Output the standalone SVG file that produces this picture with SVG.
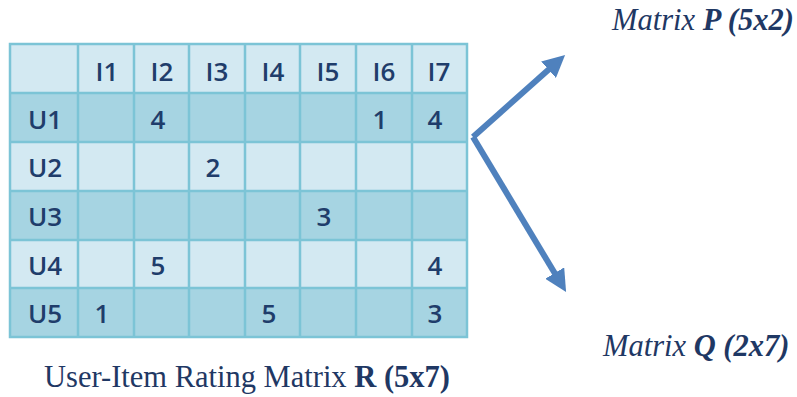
<svg xmlns="http://www.w3.org/2000/svg" width="797" height="397" viewBox="0 0 797 397">
  <defs>
    <style>
      .light { fill: #d3e9f2; }
      .dark { fill: #a6d4e2; }
      .grid { stroke: #7cc4d6; stroke-width: 2.5; fill: none; }
      .cell { font-family: "Open Sans", "Liberation Sans", sans-serif; font-weight: 600; font-size: 26px; fill: #1f3d6b; text-anchor: middle; }
      .cap { font-family: "Liberation Serif", serif; font-size: 30.5px; fill: #1f3864; }
      .arrow { stroke: #4f81bd; stroke-width: 6; fill: none; }
    </style>
    <marker id="head" viewBox="0 0 10 10" refX="3" refY="5" markerWidth="3.7" markerHeight="3.7" markerUnits="strokeWidth" orient="auto">
      <path d="M0,0 L10,5 L0,10 Z" fill="#4f81bd"/>
    </marker>
  </defs>
  <rect width="797" height="397" fill="#ffffff"/>

  <g id="matrix-r">
    <!-- row bands -->
    <rect class="light" x="10" y="44" width="457" height="49"/>
    <rect class="dark" x="10" y="93" width="457" height="49"/>
    <rect class="light" x="10" y="142" width="457" height="49"/>
    <rect class="dark" x="10" y="191" width="457" height="49"/>
    <rect class="light" x="10" y="240" width="457" height="48"/>
    <rect class="dark" x="10" y="288" width="457" height="49"/>
    <!-- grid lines -->
    <path class="grid" d="M78,44V337 M134,44V337 M189,44V337 M245,44V337 M300,44V337 M356,44V337 M412,44V337 M10,93H467 M10,142H467 M10,191H467 M10,240H467 M10,288H467"/>
    <rect class="grid" x="10" y="44" width="457" height="293" stroke-width="3"/>
    <!-- header -->
    <text class="cell" x="107" y="81">I1</text>
    <text class="cell" x="162" y="81">I2</text>
    <text class="cell" x="217" y="81">I3</text>
    <text class="cell" x="273" y="81">I4</text>
    <text class="cell" x="328" y="81">I5</text>
    <text class="cell" x="384" y="81">I6</text>
    <text class="cell" x="439" y="81">I7</text>
    <!-- row labels -->
    <text class="cell" x="45" y="129">U1</text>
    <text class="cell" x="45" y="177">U2</text>
    <text class="cell" x="45" y="226">U3</text>
    <text class="cell" x="45" y="275">U4</text>
    <text class="cell" x="45" y="323">U5</text>
    <!-- ratings -->
    <text class="cell" x="158" y="129">4</text>
    <text class="cell" x="380" y="129">1</text>
    <text class="cell" x="435" y="129">4</text>
    <text class="cell" x="213" y="177">2</text>
    <text class="cell" x="324" y="226">3</text>
    <text class="cell" x="158" y="275">5</text>
    <text class="cell" x="435" y="275">4</text>
    <text class="cell" x="102" y="323">1</text>
    <text class="cell" x="269" y="323">5</text>
    <text class="cell" x="435" y="323">3</text>
  </g>

  <g id="connectors">
    <path class="arrow" d="M473,137 L553.5,65.3" marker-end="url(#head)"/>
    <path class="arrow" d="M473,137 L558.1,278.8" marker-end="url(#head)"/>
  </g>

  <g id="matrix-p">
    <text class="cap" x="612" y="30" font-style="italic">Matrix <tspan font-weight="bold">P (5x2)</tspan></text>
  </g>
  <g id="matrix-q">
    <text class="cap" x="603" y="356" font-style="italic">Matrix <tspan font-weight="bold">Q (2x7)</tspan></text>
  </g>
  <g id="caption">
    <text class="cap" x="44" y="387">User-Item Rating Matrix <tspan font-weight="bold">R (5x7)</tspan></text>
  </g>
</svg>
